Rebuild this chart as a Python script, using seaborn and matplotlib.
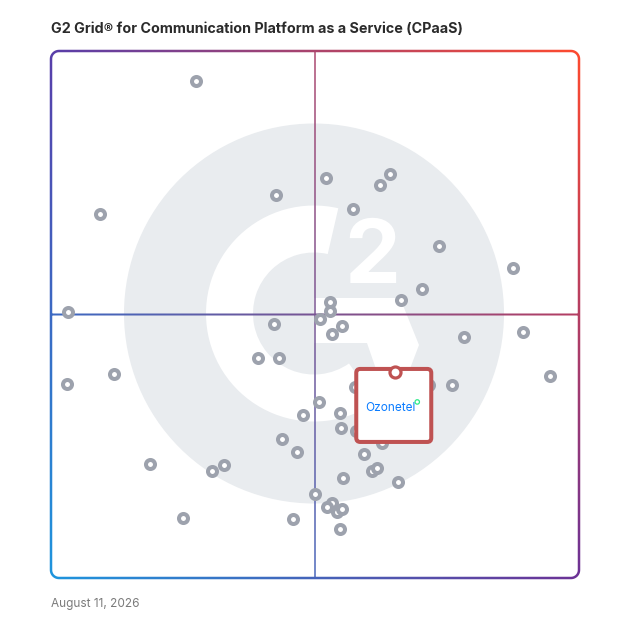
import numpy as np
import pandas as pd
import matplotlib
matplotlib.use("Agg")
import matplotlib.pyplot as plt
import matplotlib.transforms as mtransforms
from matplotlib.path import Path
from matplotlib.patches import Circle, Wedge, Polygon, FancyBboxPatch
import seaborn as sns

sns.set_theme(style="white")
plt.rcParams["font.family"] = ["Inter", "DejaVu Sans"]

## DATA (satisfaction on x, market presence on y, both 0-100)
satisfaction = [27.5, 9.3, 42.6, 3.2, 52.1, 62.3, 64.2, 57.2, 73.5, 87.5,
                70.3, 66.3, 52.8, 52.8, 50.9, 55.1, 53.2, 42.2, 78.2, 89.4,
                39.2, 43.2, 57.6, 71.6, 75.9, 94.5, 11.9, 3.0, 50.8, 47.7,
                54.7, 54.9, 57.8, 62.7, 43.8, 46.6, 59.3, 60.8, 61.7, 55.3,
                65.7, 18.8, 30.5, 32.8, 25.0, 50.0, 53.2, 52.3, 54.2, 55.1,
                45.8, 54.7]
market_presence = [94.3, 69.1, 72.7, 50.5, 75.9, 74.6, 76.7, 70.0, 63.0, 58.8,
                   54.8, 52.8, 52.4, 50.7, 49.1, 47.8, 46.3, 48.2, 45.7, 46.7,
                   41.7, 41.7, 36.2, 36.6, 36.6, 38.3, 38.7, 36.8, 33.4, 30.9,
                   31.3, 28.5, 27.9, 25.6, 26.4, 23.9, 23.5, 20.3, 20.9, 19.0,
                   18.2, 21.6, 20.3, 21.4, 11.4, 15.9, 14.2, 13.5, 12.5, 13.1,
                   11.2, 9.3]
highlight_name = "Ozonetel"
highlight_satisfaction = 65.2
highlight_presence = 39.1

title = "G2 Grid® for Communication Platform as a Service (CPaaS)"
date_text = "August 11, 2026"

## LAYOUT (pixels of the 628x628 output, y from top)
W = H = 628
FX0, FX1, FY0, FY1 = 51, 579, 51, 578   # frame left/right/top/bottom
FW, FH = FX1 - FX0, FY1 - FY0
MX, MY = FX0 + FW / 2, FY0 + FH / 2     # quadrant lines

# corner colours of the border gradient
C_TL = np.array([88, 62, 170]) / 255
C_TR = np.array([255, 74, 46]) / 255
C_BL = np.array([30, 150, 222]) / 255
C_BR = np.array([108, 50, 150]) / 255


def rounded_rect(x0, y0, x1, y1, r):
    pts = []
    corners = [(x1 - r, y0 + r, -90), (x1 - r, y1 - r, 0), (x0 + r, y1 - r, 90), (x0 + r, y0 + r, 180)]
    for cx, cy, a0 in corners:
        a = np.radians(np.linspace(a0, a0 + 90, 12))
        pts += list(zip(cx + r * np.cos(a), cy + r * np.sin(a)))
    pts.append(pts[0])
    return np.array(pts)


fig = plt.figure(figsize=(W / 100, H / 100), dpi=100)

# background axes in pixel units: watermark, frame, quadrant lines
bg = fig.add_axes([0, 0, 1, 1])
bg.set_xlim(0, W)
bg.set_ylim(H, 0)
bg.axis("off")

wm_gray = "#E9ECEF"
gx, gy = 314, 313.5
bg.add_patch(Circle((gx, gy), 190, color=wm_gray, lw=0, zorder=0))
bg.add_patch(Wedge((gx, gy), 108, 55, 283, width=47, color="white", lw=0, zorder=0.5))
bar_px = [(314, 298), (400, 298), (419, 345), (400, 395), (385, 395), (367, 343), (314, 343)]
bg.add_patch(Polygon(bar_px, closed=True, color="white", lw=0, zorder=0.5))
bg.text(372, 283, "2", ha="center", va="baseline", fontsize=64, fontweight="bold",
        color="white", zorder=0.6)

# gradient image
u = np.linspace(0, 1, 300)[None, :, None]
v = np.linspace(1, 0, 300)[:, None, None]
top = C_TL * (1 - u) + C_TR * u
bot = C_BL * (1 - u) + C_BR * u
grad_img = np.clip(bot * (1 - v) + top * v, 0, 1)
ext = (FX0 - 3, FX1 + 3, FY1 + 3, FY0 - 3)

h = 1.25
outer = rounded_rect(FX0 - h, FY0 - h, FX1 + h, FY1 + h, 8 + h)
inner = rounded_rect(FX0 + h, FY0 + h, FX1 - h, FY1 - h, 8 - h)[::-1]
hline = rounded_rect(FX0, MY - 1.0, FX1, MY + 1.0, 0)
vline = rounded_rect(MX - 0.8, FY0, MX + 0.8, FY1, 0)

im1 = bg.imshow(grad_img, extent=ext, origin="upper", aspect="auto", interpolation="bilinear", zorder=1)
im1.set_clip_path(Path.make_compound_path(Path(outer), Path(inner), Path(hline)), bg.transData)
im2 = bg.imshow(grad_img, extent=ext, origin="upper", aspect="auto", interpolation="bilinear",
                alpha=0.75, zorder=1)
im2.set_clip_path(Path(vline), bg.transData)
bg.set_xlim(0, W)
bg.set_ylim(H, 0)

# data axes mapped onto the frame
ax = fig.add_axes([FX0 / W, (H - FY1) / H, FW / W, FH / H])
ax.set_xlim(0, 100)
ax.set_ylim(0, 100)
ax.axis("off")

## POINTS
df = pd.DataFrame({"satisfaction": satisfaction, "market_presence": market_presence})
sns.scatterplot(data=df, x="satisfaction", y="market_presence", ax=ax, s=42, color="white",
                edgecolor="#9DA2AD", linewidth=2.9, zorder=3, legend=False)

## HIGHLIGHTED PRODUCT
hx, hy = ax.transData.transform((highlight_satisfaction, highlight_presence))
box_tr = mtransforms.Affine2D().translate(hx, hy)
red = "#BF5252"
ax.add_patch(FancyBboxPatch((-39, -70), 75, 73, boxstyle="round,pad=0,rounding_size=4",
                            transform=box_tr, facecolor="white", edgecolor=red, lw=2.9, zorder=5))
ax.text(-5, -36, highlight_name, transform=box_tr, ha="center", va="center", fontsize=8.5,
        color="#0A7CFF", zorder=6)
ax.add_patch(Circle((22, -30), 2.2, transform=box_tr, facecolor="white", edgecolor="#2EEA8A",
                    lw=0.9, zorder=6))
sns.scatterplot(x=[highlight_satisfaction], y=[highlight_presence], ax=ax, s=63, color="white",
                edgecolor=red, linewidth=2.3, zorder=7, legend=False)

## TEXTS
fig.text(FX0 / W, 1 - 29 / H, title, ha="left", va="center", fontsize=10.3,
         fontweight="bold", color="#2B2B2B")
fig.text(FX0 / W, 1 - 604 / H, date_text, ha="left", va="center", fontsize=8.5, color="#7A7A7A")

fig.savefig("out.png", dpi=100)
